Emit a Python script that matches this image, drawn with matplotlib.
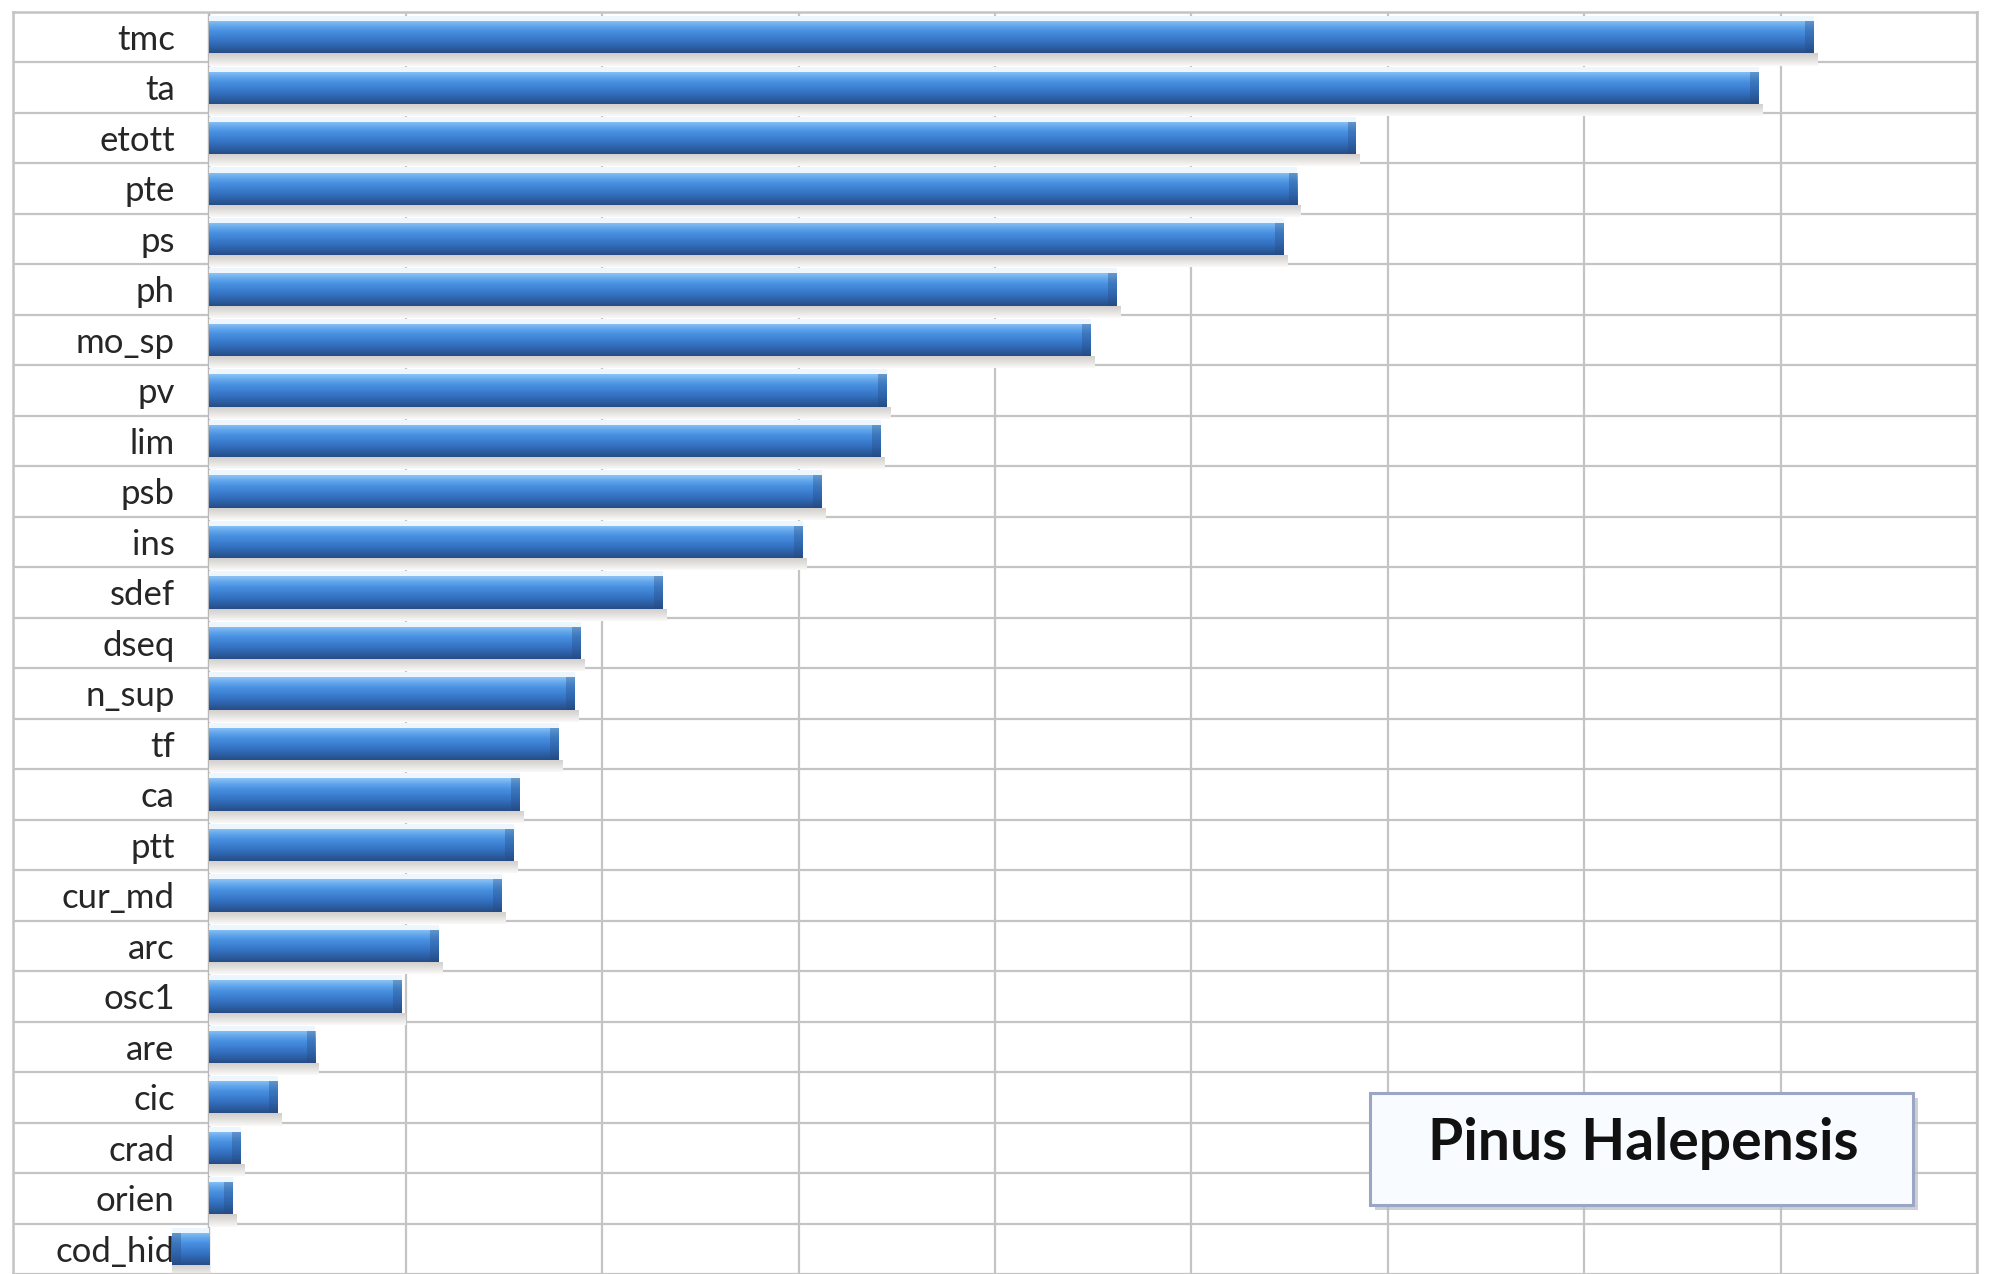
import numpy as np
import matplotlib
matplotlib.use("Agg")
import matplotlib.pyplot as plt
from matplotlib.colors import LinearSegmentedColormap
from matplotlib.patches import Rectangle

# variable importance, top to bottom
names = ['tmc', 'ta', 'etott', 'pte', 'ps', 'ph', 'mo_sp', 'pv', 'lim', 'psb',
         'ins', 'sdef', 'dseq', 'n_sup', 'tf', 'ca', 'ptt', 'cur_md', 'arc',
         'osc1', 'are', 'cic', 'crad', 'orien', 'cod_hid']
values = [8.17, 7.89, 5.84, 5.54, 5.47, 4.62, 4.49, 3.45, 3.42, 3.12,
          3.02, 2.31, 1.89, 1.86, 1.78, 1.58, 1.55, 1.49, 1.17,
          0.98, 0.54, 0.35, 0.16, 0.12, -0.19]
x_ticks = np.arange(-1, 10, 1)
title = 'Pinus Halepensis'

W, H = 1998, 1274
fig = plt.figure(figsize=(W / 100, H / 100), dpi=100)
ax = fig.add_axes([13 / W, 0, (1977 - 13) / W, (H - 12) / H])

n = len(names)
ypos = np.arange(n)
bh = 0.64
sh = 0.24

# shaded cylinder look for the bars
bar_cmap = LinearSegmentedColormap.from_list(
    'bar3d', ['#8cc3f4', '#62a6ec', '#4890e0', '#3d80d2', '#3470bf', '#2d5fa4', '#274c85'])
shadow_cmap = LinearSegmentedColormap.from_list(
    'shadow', ['#cfccc9', '#dcdad7', '#ebe9e7', '#fbfaf9'])
grad = np.linspace(0, 1, 64).reshape(-1, 1)

# faint halo above each bar
ax.barh(ypos - bh / 2 - 0.05, values, height=0.10, color='#eef6fd', zorder=2)

shadows = ax.barh(ypos + bh / 2 + sh / 2, [v + 0.02 if v > 0 else v for v in values],
                  height=sh, color='none', zorder=2)
bars = ax.barh(ypos, values, height=bh, color='none', zorder=3)
for b, s, v in zip(bars, shadows, values):
    x0 = min(0, v)
    x1 = max(0, v)
    y0 = b.get_y()
    im = ax.imshow(grad, cmap=bar_cmap, aspect='auto', origin='upper',
                   extent=(x0, x1, y0 + bh, y0), zorder=3, interpolation='bicubic')
    im.set_clip_path(b)
    sx0 = min(0, s.get_x() + s.get_width())
    sx1 = max(0, s.get_x() + s.get_width())
    sy0 = s.get_y()
    im2 = ax.imshow(grad, cmap=shadow_cmap, aspect='auto', origin='upper',
                    extent=(sx0, sx1, sy0 + sh, sy0), zorder=2, interpolation='bicubic')
    im2.set_clip_path(s)
    # darker rounded end
    cap = 0.045
    ax.barh(y0 + bh / 2, cap, left=x1 - cap if v > 0 else x0,
            height=bh, color='#254a80', alpha=0.35, zorder=4)

ax.set_xlim(-1, 9)
ax.set_ylim(n - 0.5, -0.5)
ax.set_xticks(x_ticks)
ax.set_yticks(ypos)
ax.set_yticks(np.arange(n + 1) - 0.5, minor=True)
ax.set_xticklabels([])
ax.set_yticklabels([])
ax.tick_params(which='both', length=0)
ax.grid(axis='x', which='major', color='#c4c4c4', linewidth=1.6, zorder=0)
ax.grid(axis='y', which='minor', color='#c4c4c4', linewidth=1.6, zorder=0)
ax.set_axisbelow(True)
ax.axvline(0, color='#b8b8b8', linewidth=1.6, zorder=1)
for s in ax.spines.values():
    s.set_color('#c4c4c4')
    s.set_linewidth(1.8)

for i, name in enumerate(names):
    ax.annotate(name, xy=(0, i), xytext=(-25, -2), textcoords='offset points',
                ha='right', va='center', fontsize=25, family='Lato',
                color='#262626', zorder=5)

# caption box
bx0, bx1, by0, by1 = 1370, 1913, 1093, 1205
fig.patches.append(Rectangle((bx0 + 5, H - by1 - 5), bx1 - bx0, by1 - by0,
                             transform=None, facecolor='#b9bcc4', edgecolor='none',
                             alpha=0.7, zorder=6))
fig.patches.append(Rectangle((bx0, H - by1), bx1 - bx0, by1 - by0, transform=None,
                             facecolor='#f8fbff', edgecolor='#9aa6c4',
                             linewidth=2.2, zorder=7))
fig.text(1643 / W, 1 - 1143 / H, title, ha='center', va='center',
         fontsize=41, fontweight='bold', family='Lato', color='#111111', zorder=8)

fig.savefig('out.png', dpi=100, facecolor='white')
